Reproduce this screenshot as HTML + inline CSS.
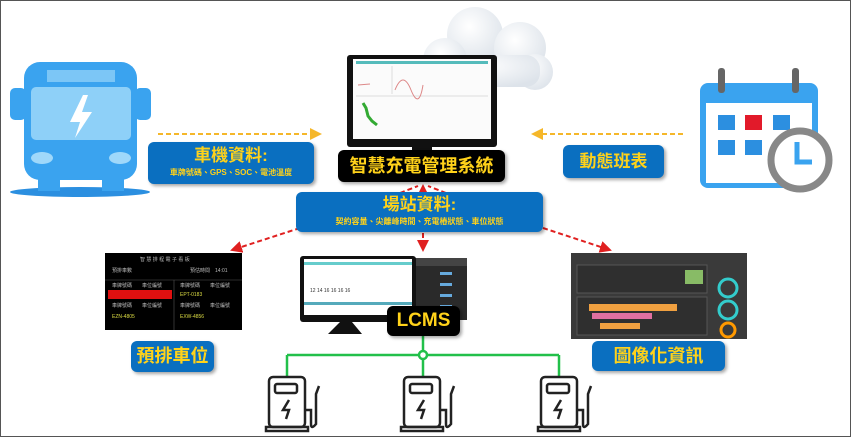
<!DOCTYPE html>
<html><head><meta charset="utf-8"><style>
body{margin:0;width:851px;height:437px;overflow:hidden;background:#fff;font-family:"Liberation Sans","Noto Sans CJK TC",sans-serif}
.frame{position:absolute;left:0;top:0;width:849px;height:435px;border:1px solid #555}
.a{position:absolute}
.box{position:absolute;background:#0a6fc0;border-radius:6px;color:#ffd21a;text-align:center;font-weight:bold;box-shadow:2px 2px 3px rgba(0,0,0,.35)}
</style></head><body>
<div class="frame"></div>
<svg class="a" style="left:0;top:0" width="851" height="437">
<defs>
<marker id="ay" markerWidth="6" markerHeight="6" refX="5" refY="3" orient="auto"><path d="M0,0L6,3L0,6z" fill="#f5b72a"/></marker>
<marker id="ar" markerWidth="6" markerHeight="6" refX="5" refY="3" orient="auto"><path d="M0,0L6,3L0,6z" fill="#e02020"/></marker>
<radialGradient id="cg" cx="0.4" cy="0.35" r="0.7"><stop offset="0" stop-color="#ffffff"/><stop offset="1" stop-color="#dde3ea"/></radialGradient>
</defs>
<!-- cloud -->
<g fill="url(#cg)">
<circle cx="475" cy="35" r="28"/><circle cx="520" cy="48" r="26"/><circle cx="445" cy="60" r="22"/><circle cx="535" cy="72" r="18"/><rect x="440" y="55" width="100" height="32" rx="14"/>
</g>
<!-- bus -->
<ellipse cx="80" cy="192" rx="70" ry="5" fill="#2b8fe0"/>
<rect x="10" y="88" width="16" height="32" rx="5" fill="#3aa3ef"/>
<rect x="135" y="88" width="16" height="32" rx="5" fill="#3aa3ef"/>
<rect x="24" y="62" width="113" height="118" rx="16" fill="#3aa3ef"/>
<rect x="47" y="70" width="68" height="12" fill="#7cc6f6"/>
<rect x="31" y="87" width="100" height="53" rx="5" fill="#8ed0f8"/>
<path d="M83,95 L70,122 L80,122 L75,138 L92,112 L82,112 L88,95z" fill="#fff"/>
<ellipse cx="42" cy="158" rx="11" ry="6" fill="#9fd8fa"/><ellipse cx="120" cy="158" rx="11" ry="6" fill="#9fd8fa"/>
<rect x="38" y="178" width="22" height="13" fill="#3aa3ef"/><rect x="102" y="178" width="22" height="13" fill="#3aa3ef"/>
<!-- calendar -->
<rect x="700" y="83" width="118" height="105" rx="8" fill="#3aa3ef"/>
<rect x="706" y="103" width="106" height="80" fill="#fff"/>
<rect x="718" y="68" width="7" height="25" rx="3" fill="#666"/><rect x="792" y="68" width="7" height="25" rx="3" fill="#666"/>
<rect x="718" y="115" width="17" height="15" fill="#2c8fe0"/><rect x="745" y="115" width="17" height="15" fill="#e21a2a"/><rect x="773" y="115" width="17" height="15" fill="#2c8fe0"/>
<rect x="718" y="140" width="17" height="15" fill="#2c8fe0"/><rect x="745" y="140" width="17" height="15" fill="#2c8fe0"/>
<circle cx="800" cy="160" r="29" fill="#fff" stroke="#888" stroke-width="7"/>
<path d="M797,142 V162 H812" fill="none" stroke="#3aa3ef" stroke-width="5"/>
<!-- top monitor -->
<rect x="347" y="55" width="150" height="92" rx="3" fill="#111"/>
<rect x="353" y="59" width="138" height="80" fill="#fbfbfb"/>
<rect x="356" y="61" width="132" height="3" fill="#5bb"/>
<line x1="356" y1="96" x2="488" y2="96" stroke="#ddd"/>
<line x1="392" y1="66" x2="392" y2="94" stroke="#ddd"/>
<path d="M358,85 L370,84 M395,90 q8,-20 16,0 t12,-5" stroke="#d88" fill="none"/>
<path d="M363,103 l3,5 l2,8 l4,5 l5,4" stroke="#3a3" stroke-width="3" fill="none"/>
<rect x="412" y="147" width="20" height="6" fill="#111"/>
<!-- yellow arrows -->
<line x1="158" y1="134" x2="320" y2="134" stroke="#f5b72a" stroke-width="2" stroke-dasharray="5,3" marker-end="url(#ay)"/>
<line x1="683" y1="134" x2="533" y2="134" stroke="#f5b72a" stroke-width="2" stroke-dasharray="5,3" marker-end="url(#ay)"/>
<!-- red arrows -->
<g stroke="#e02020" stroke-width="2" stroke-dasharray="5,3" fill="none">
<line x1="423" y1="193" x2="423" y2="186" marker-end="url(#ar)"/>
<line x1="400" y1="193" x2="418" y2="186"/><line x1="446" y1="193" x2="428" y2="186"/>
<line x1="300" y1="228" x2="232" y2="250" marker-end="url(#ar)"/>
<line x1="543" y1="228" x2="610" y2="250" marker-end="url(#ar)"/>
<line x1="423" y1="233" x2="423" y2="250" marker-end="url(#ar)"/>
</g>
<!-- left board -->
<rect x="105" y="253" width="137" height="86" fill="#000"/>
<rect x="105" y="330" width="137" height="9" fill="#fff"/>
<rect x="108" y="290" width="64" height="9" fill="#e01010"/>
<g stroke="#555" stroke-width="0.6"><line x1="105" y1="280" x2="242" y2="280"/><line x1="174" y1="280" x2="174" y2="330"/></g>
<g fill="#bbb" font-size="5"><text x="140" y="261">智 慧 排 程 電 子 看 板</text>
<text x="112" y="272">預排車數</text><text x="190" y="272">預估時間　14:01</text>
<text x="112" y="287">車牌號碼　　車位編號</text><text x="180" y="287">車牌號碼　　車位編號</text>
<text x="112" y="307">車牌號碼　　車位編號</text><text x="180" y="307">車牌號碼　　車位編號</text></g>
<g fill="#dd4" font-size="5"><text x="180" y="296">EPT-0183</text><text x="112" y="318">EZN-4805</text><text x="180" y="318">EXW-4856</text></g>
<!-- center monitor + server -->
<rect x="405" y="258" width="62" height="62" fill="#2a2a2a"/>
<rect x="405" y="258" width="62" height="8" fill="#444"/>
<g fill="#6ad"><rect x="440" y="272" width="12" height="3"/><rect x="440" y="283" width="12" height="3"/><rect x="440" y="294" width="12" height="3"/><rect x="440" y="305" width="12" height="3"/></g>
<rect x="300" y="256" width="116" height="66" rx="3" fill="#111"/>
<rect x="304" y="259" width="108" height="56" fill="#fff"/>
<rect x="304" y="262" width="108" height="3" fill="#6cc"/><rect x="304" y="302" width="108" height="3" fill="#5ab"/>
<text x="310" y="292" font-size="5" fill="#333">12 14 16 16 16 16</text>
<path d="M340,322 L328,334 H362 L352,322z" fill="#111"/>
<!-- right board -->
<rect x="571" y="253" width="176" height="86" fill="#3a3a3a"/>
<rect x="577" y="265" width="130" height="28" fill="#2f2f2f" stroke="#555"/>
<rect x="685" y="270" width="18" height="14" fill="#8b6"/>
<rect x="577" y="297" width="130" height="38" fill="#2f2f2f" stroke="#555"/>
<rect x="589" y="304" width="88" height="7" fill="#f0a040"/><rect x="592" y="313" width="60" height="6" fill="#e070a0"/><rect x="600" y="323" width="40" height="6" fill="#f0a040"/>
<circle cx="728" cy="288" r="9" fill="none" stroke="#3cc" stroke-width="3"/><circle cx="728" cy="310" r="9" fill="none" stroke="#3cc" stroke-width="3"/><circle cx="728" cy="330" r="7" fill="none" stroke="#f90" stroke-width="3"/>
<!-- green tree -->
<g stroke="#22c04a" stroke-width="2.5" fill="none">
<line x1="423" y1="335" x2="423" y2="377"/>
<line x1="287" y1="355" x2="559" y2="355"/>
<line x1="287" y1="355" x2="287" y2="377"/><line x1="559" y1="355" x2="559" y2="377"/>
</g>
<circle cx="423" cy="355" r="4" fill="#fff" stroke="#22c04a" stroke-width="2.5"/>
<!-- chargers -->
<g id="ch" fill="none" stroke="#222" stroke-width="2.5">
<rect x="269" y="377" width="36" height="50" rx="4"/>
<rect x="275" y="384" width="22" height="9" rx="2"/>
<path d="M289,400 l-6,10 h6 l-3,9" />
<rect x="266" y="427" width="42" height="4"/>
<path d="M305,410 h6 v14 q0,6 5,0 v-30 l3,-8"/>
</g>
<use href="#ch" x="135"/><use href="#ch" x="272"/>
</svg>
<div class="box" style="left:148px;top:142px;width:166px;height:42px"><div style="font-size:17px;line-height:22px;margin-top:3px">車機資料:</div><div style="font-size:8px">車牌號碼、GPS、SOC、電池溫度</div></div>
<div class="box" style="left:563px;top:145px;width:101px;height:33px;font-size:17px;line-height:33px">動態班表</div>
<div class="box" style="left:338px;top:150px;width:167px;height:32px;background:#000;font-size:18px;line-height:32px">智慧充電管理系統</div>
<div class="box" style="left:296px;top:192px;width:247px;height:40px"><div style="font-size:17px;line-height:22px;margin-top:2px">場站資料:</div><div style="font-size:8px">契約容量、尖離峰時間、充電樁狀態、車位狀態</div></div>
<div class="box" style="left:387px;top:306px;width:73px;height:30px;background:#000;font-size:19px;line-height:30px">LCMS</div>
<div class="box" style="left:131px;top:341px;width:83px;height:31px;font-size:18px;line-height:31px">預排車位</div>
<div class="box" style="left:592px;top:341px;width:133px;height:30px;font-size:18px;line-height:30px">圖像化資訊</div>
</body></html>
